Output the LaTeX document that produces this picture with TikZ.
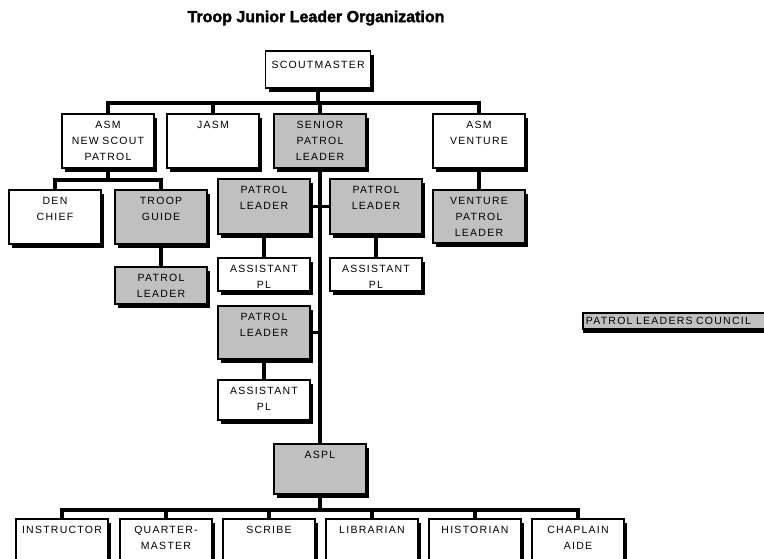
\documentclass[tikz,border=0pt]{standalone}
\usepackage{fontspec}
\setmainfont{Liberation Sans}
\usepackage{xcolor}
\usepackage{tikz}
\usetikzlibrary{shadows}
\definecolor{orgGrey}{HTML}{C0C0C0}
\definecolor{orgInk}{HTML}{000000}
\tikzset{
  org chart/.style={x=1pt,y=-1pt,line join=miter},
  org box/.style={draw=orgInk, fill=white, line width=1.6pt,
    anchor=north, align=center, text width=80pt, inner xsep=6pt,
    inner ysep=7pt, text height=8pt,
    font=\addfontfeatures{LetterSpace=12}\fontsize{10.5}{16}\selectfont,
    drop shadow={shadow xshift=3pt, shadow yshift=-4pt, fill=orgInk, opacity=1}},
  org key box/.style={org box, fill=orgGrey},
  org tall/.style={text depth=#1},
  org link/.style={draw=orgInk, line width=3.5pt},
  org title/.style={font=\bfseries\addfontfeatures{FakeBold=2}\fontsize{16}{18}\selectfont}
}
\begin{document}
\begin{tikzpicture}[org chart]
\useasboundingbox (0,0) rectangle (764,558);
\clip (0,0) rectangle (764,558);
\node[org title] (title) at (316,18) {Troop Junior Leader Organization};
% top of the tree
\node[org box,org tall=12,text height=11pt,text width=93pt] (sm) at (318,50) {SCOUTMASTER};
\node[org box,org tall=32] (asmnsp) at (108,113) {ASM\\NEW SCOUT\\PATROL};
\node[org box,org tall=32] (jasm) at (213,113) {JASM};
\node[org key box,org tall=32] (spl) at (320,113) {SENIOR\\PATROL\\LEADER};
\node[org box,org tall=32] (asmv) at (479,113) {ASM\\VENTURE};
% new scout patrol side
\node[org box,org tall=32] (ben) at (55,189) {DEN\\CHIEF};
\node[org key box,org tall=32] (guide) at (161,189) {TROOP\\GUIDE};
\node[org key box,org tall=15] (plnsp) at (161,266) {PATROL\\LEADER};
% patrols under the SPL
\node[org key box,org tall=33] (pla) at (264,178) {PATROL\\LEADER};
\node[org key box,org tall=33] (plb) at (376,178) {PATROL\\LEADER};
\node[org box,org tall=11] (apla) at (264,257) {ASSISTANT\\PL};
\node[org box,org tall=11] (aplb) at (376,257) {ASSISTANT\\PL};
\node[org key box,org tall=31] (plc) at (264,305) {PATROL\\LEADER};
\node[org box,org tall=18] (aplc) at (264,379) {ASSISTANT\\PL};
\node[org key box,org tall=31] (vpl) at (479,189) {VENTURE\\PATROL\\LEADER};
\node[org key box,org tall=28] (aspl) at (320,443) {ASPL};
% staff
\node[org box,org tall=26] (instr) at (62,518) {INSTRUCTOR};
\node[org box,org tall=26] (qm) at (166,518) {QUARTER-\\MASTER};
\node[org box,org tall=26] (scribe) at (269,518) {SCRIBE};
\node[org box,org tall=26] (libr) at (372,518) {LIBRARIAN};
\node[org box,org tall=26] (hist) at (475,518) {HISTORIAN};
\node[org box,org tall=26] (chap) at (578,518) {CHAPLAIN\\AIDE};
\node[org key box,anchor=west,align=left,text width=180pt,text height=7.5pt,
  inner ysep=4pt,inner xsep=3pt,drop shadow={shadow xshift=0pt,
  shadow yshift=-4pt,fill=orgInk,opacity=1}] (plcouncil) at (582,321)
  {PATROL LEADERS COUNCIL};
% connectors
\coordinate (bartop) at (318,103);
\coordinate (barnsp) at (108,180);
\coordinate (barstaff) at (320,510);
\foreach \kid in {asmnsp,jasm,spl,asmv}
  \draw[org link] (sm.south) -- (sm.south |- bartop) -| (\kid.north);
\foreach \kid in {ben,guide}
  \draw[org link] (asmnsp.south) -- (asmnsp.south |- barnsp) -| (\kid.north);
\draw[org link] (guide.south) -- (plnsp.north);
\draw[org link] (asmv.south) -- (vpl.north);
\draw[org link] (spl.south) -- (aspl.north);
\draw[org link] (pla.east) -- (plb.west);
\draw[org link] (plc.east) -- (plc.east -| spl.south);
\draw[org link] (pla.south) -- (apla.north);
\draw[org link] (plb.south) -- (aplb.north);
\draw[org link] (plc.south) -- (aplc.north);
\foreach \kid in {instr,qm,scribe,libr,hist,chap}
  \draw[org link] (aspl.south) -- (aspl.south |- barstaff) -| (\kid.north);
\end{tikzpicture}
\end{document}
